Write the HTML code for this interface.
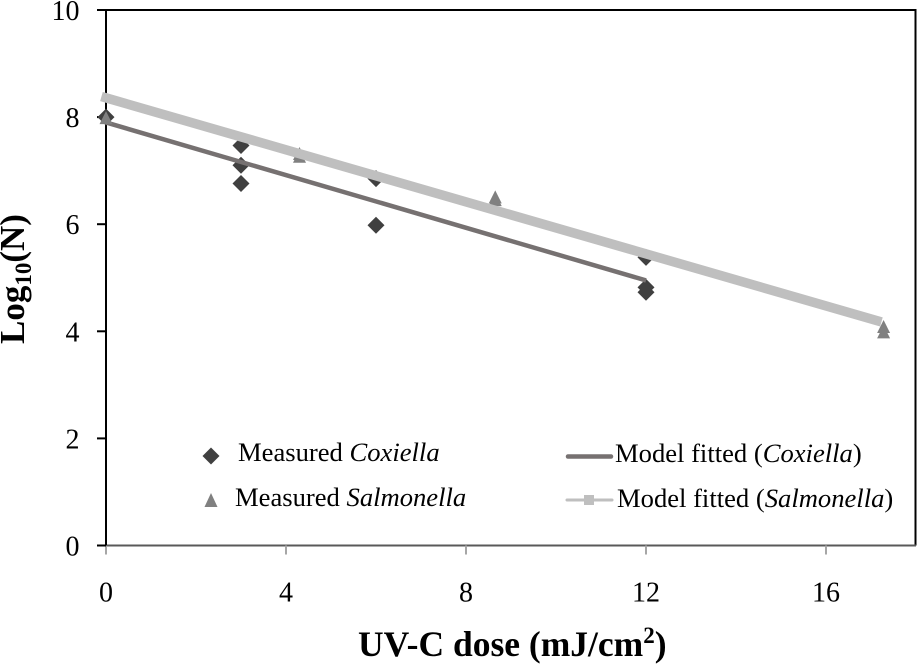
<!DOCTYPE html>
<html>
<head>
<meta charset="utf-8">
<style>
html,body{margin:0;padding:0;background:#fff;width:917px;height:664px;overflow:hidden}
svg{display:block}
text{font-family:"Liberation Serif",serif;fill:#000}
</style>
</head>
<body>
<svg id="chart" width="917" height="664" viewBox="0 0 917 664" xmlns="http://www.w3.org/2000/svg">
  <g id="axes"></g>
  <g id="marks"></g>
  <g id="legend">
    <g>
      <path d="M211 447.500 L219.500 456 L211 464.500 L202.500 456 Z" fill="#404040"/>
      <text x="238" y="461" font-size="26.600">Measured <tspan font-style="italic">Coxiella</tspan></text>
    </g>
    <g>
      <path d="M211 493 L217.500 507 L204.500 507 Z" fill="#808080"/>
      <text x="235" y="506" font-size="26.600">Measured <tspan font-style="italic">Salmonella</tspan></text>
    </g>
    <g>
      <line x1="568" y1="456.500" x2="611" y2="456.500" stroke="#767171" stroke-width="4.500" stroke-linecap="round"/>
      <text x="615" y="462" font-size="26.600">Model fitted (<tspan font-style="italic">Coxiella</tspan>)</text>
    </g>
    <g>
      <line x1="567" y1="500" x2="612" y2="500" stroke="#bfbfbf" stroke-width="3" stroke-linecap="round"/>
      <rect x="584" y="495" width="10" height="10" fill="#bfbfbf"/>
      <text x="617" y="507" font-size="26.600">Model fitted (<tspan font-style="italic">Salmonella</tspan>)</text>
    </g>
  </g>
  <text x="358" y="656" font-size="35.500" font-weight="bold">UV-C dose (mJ/cm<tspan font-size="23" dy="-13">2</tspan><tspan dy="13">)</tspan></text>
  <text transform="translate(24,344) rotate(-90)" font-size="35" font-weight="bold">Log<tspan font-size="23" dy="7">10</tspan><tspan dy="-7">(N)</tspan></text>
</svg>
<script>
var xTicks = [0, 4, 8, 12, 16];
var yTicks = [0, 2, 4, 6, 8, 10];
var coxiellaDose = [0, 3, 3, 3, 6, 6, 12, 12, 12];
var coxiellaLog = [8.0, 7.47, 7.1, 6.76, 6.85, 5.98, 5.38, 4.82, 4.73];
var salmonellaDose = [0, 4.3, 4.3, 8.65, 8.65, 17.28, 17.28];
var salmonellaLog = [7.98, 7.31, 7.26, 6.5, 6.45, 4.08, 3.98];
var coxiellaFitDose = [0, 12];
var coxiellaFitLog = [7.9, 4.95];
var salmonellaFitDose = [0, 17.13];
var salmonellaFitLog = [8.36, 4.2];

var NS = 'http://www.w3.org/2000/svg';
function sx(v) { return 106 + v * 45; }
function sy(v) { return 545.5 - v * 53.55; }
function make(parent, tag, attrs) {
  var el = document.createElementNS(NS, tag);
  for (var k in attrs) el.setAttribute(k, attrs[k]);
  parent.appendChild(el);
  return el;
}
var axes = document.getElementById('axes');
var marks = document.getElementById('marks');

var frame = make(axes, 'path', {d: 'M' + sx(0) + ' ' + sy(10) + ' H915.500 V' + sy(0), fill: 'none', stroke: '#000', 'stroke-width': 2});



var xAxis = make(axes, 'line', {x1: sx(0), y1: sy(0), x2: 916, y2: sy(0), stroke: '#595959', 'stroke-width': 2});



var yAxis = make(axes, 'line', {x1: sx(0), y1: sy(0), x2: sx(0), y2: sy(10), stroke: '#000', 'stroke-width': 2});



xTicks.forEach(function (t) {
  var tick = make(axes, 'line', {x1: sx(t), y1: sy(0), x2: sx(t), y2: sy(0) + 9, stroke: '#a6a6a6', 'stroke-width': 2});
  
  
  var label = make(axes, 'text', {x: sx(t), y: 601.5, 'font-size': 28, 'text-anchor': 'middle'});
  label.textContent = t;
  
  
});
yTicks.forEach(function (t) {
  var tick = make(axes, 'line', {x1: sx(0) - 9, y1: sy(t), x2: sx(0), y2: sy(t), stroke: '#000', 'stroke-width': 2});
  
  
  var label = make(axes, 'text', {x: 79.5, y: sy(t) + 10, 'font-size': 28, 'text-anchor': 'end'});
  label.textContent = t;
  
  
});

coxiellaDose.forEach(function (d, i) {
  var x = sx(d), y = sy(coxiellaLog[i]);
  var p = make(marks, 'path', {d: 'M' + x + ' ' + (y - 8.5) + ' L' + (x + 8.5) + ' ' + y + ' L' + x + ' ' + (y + 8.5) + ' L' + (x - 8.5) + ' ' + y + ' Z', fill: '#404040'});
  
  
});
function linePoints(xs, ys) {
  return xs.map(function (d, i) { return sx(d) + ',' + sy(ys[i]); }).join(' ');
}
var coxFit = make(marks, 'polyline', {points: linePoints(coxiellaFitDose, coxiellaFitLog), fill: 'none', stroke: '#767171', 'stroke-width': 4.5});



salmonellaDose.forEach(function (d, i) {
  var x = sx(d), y = sy(salmonellaLog[i]);
  var p = make(marks, 'path', {d: 'M' + x + ' ' + (y - 7) + ' L' + (x + 6.5) + ' ' + (y + 6) + ' L' + (x - 6.5) + ' ' + (y + 6) + ' Z', fill: '#808080'});
  
  
});

var salFit = make(marks, 'polyline', {points: linePoints(salmonellaFitDose, salmonellaFitLog), fill: 'none', stroke: '#bfbfbf', 'stroke-width': 9.5, 'stroke-linecap': 'square'});


</script>
</body>
</html>
